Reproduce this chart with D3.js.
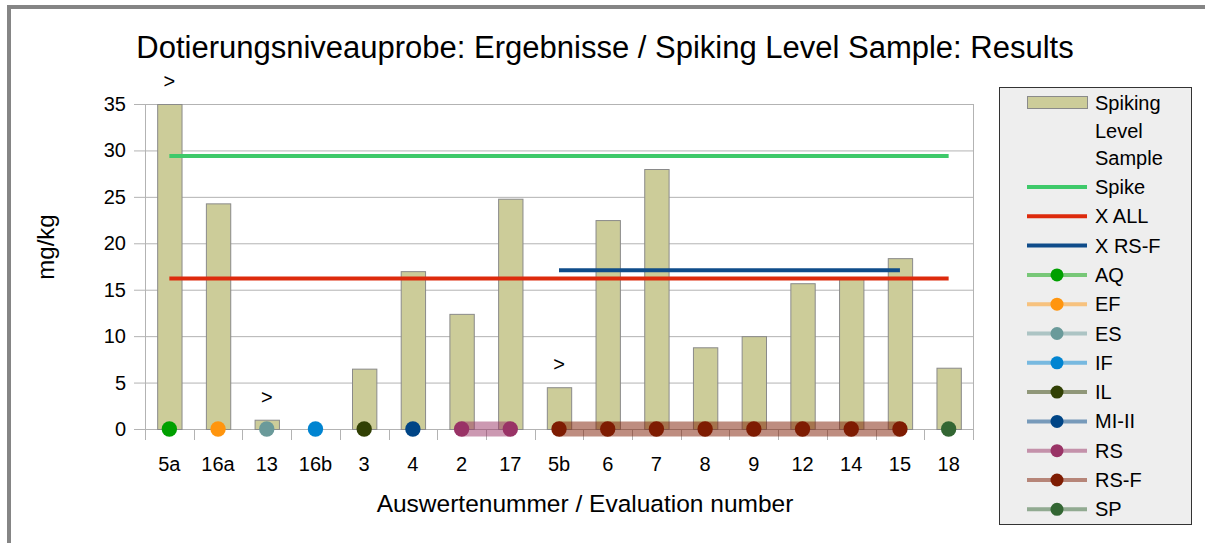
<!DOCTYPE html>
<html>
<head>
<meta charset="utf-8">
<script src="https://cdn.jsdelivr.net/npm/d3@7"></script>
<style>
  html, body { margin: 0; padding: 0; background: #fff; }
  svg { display: block; font-family: "Liberation Sans", Arial, sans-serif; }
</style>
</head>
<body>
<svg id="chart" width="1205" height="543"></svg>
<script>
// ---- Data ----
const categories = ["5a","16a","13","16b","3","4","2","17","5b","6","7","8","9","12","14","15","18"];
const spikingValues = [35, 24.3, 1.0, null, 6.5, 17.0, 12.4, 24.8, 4.5, 22.5, 28.0, 8.8, 10.0, 15.7, 16.3, 18.4, 6.6];
const valueLabels = [">", "", ">", "", "", "", "", "", ">", "", "", "", "", "", "", "", ""];
const spikeValue = 29.4;
const spikeRange = ["5a", "18"];
const xAllValue = 16.2;
const xAllRange = ["5a", "18"];
const xRsfValue = 17.1;
const xRsfRange = ["5b", "15"];
const labSeries = ["AQ","EF","ES","IF","IL","MI-II","RS","RS-F","SP"];
const labColors = ["#00a000","#ff950e","#6a9a9a","#0084d1","#314004","#004586","#993366","#7e1c02","#336633"];
const labCategories = [["5a"],["16a"],["13"],["16b"],["3"],["4"],["2","17"],["5b","6","7","8","9","12","14","15"],["18"]];
const labValues = [[0],[0],[0],[0],[0],[0],[0,0],[0,0,0,0,0,0,0,0],[0]];
const yTicks = [0,5,10,15,20,25,30,35];
const titleText = "Dotierungsniveauprobe: Ergebnisse / Spiking Level Sample: Results";
const xTitle = "Auswertenummer / Evaluation number";
const yTitle = "mg/kg";

// ---- Layout ----
const svg = d3.select("#chart");
const plot = { left: 145, right: 973, top: 104, bottom: 429 };

const x = d3.scaleBand().domain(categories).range([plot.left, plot.right]).paddingInner(0.5).paddingOuter(0.25);
const y = d3.scaleLinear().domain([0, 35]).range([plot.bottom, plot.top]);
const cx = c => x(c) + x.bandwidth() / 2;

// frame
svg.append("rect").attr("x", 7).attr("y", 5).attr("width", 1200).attr("height", 4).attr("fill", "#858585");
svg.append("rect").attr("x", 7).attr("y", 5).attr("width", 4).attr("height", 540).attr("fill", "#858585");

// title
svg.append("text").attr("x", 605).attr("y", 58).attr("text-anchor", "middle")
  .attr("font-size", 31).attr("fill", "#000").text(titleText);

// gridlines
const grid = svg.append("g");
grid.selectAll("line.h").data(yTicks).join("line")
  .attr("x1", plot.left - 11).attr("x2", plot.right)
  .attr("y1", d => y(d) + 0.5).attr("y2", d => y(d) + 0.5)
  .attr("stroke", "#b3b3b3").attr("stroke-width", 1);
grid.append("line").attr("x1", plot.left + 0.5).attr("x2", plot.left + 0.5)
  .attr("y1", plot.top).attr("y2", plot.bottom + 11).attr("stroke", "#b3b3b3");
grid.append("line").attr("x1", plot.right + 0.5).attr("x2", plot.right + 0.5)
  .attr("y1", plot.top).attr("y2", plot.bottom + 11).attr("stroke", "#b3b3b3");
// x category boundary ticks
const step = x.step();
grid.selectAll("line.xt").data(categories.slice(1)).join("line")
  .attr("x1", d => Math.round(cx(d) - step / 2) + 0.5).attr("x2", d => Math.round(cx(d) - step / 2) + 0.5)
  .attr("y1", plot.bottom).attr("y2", plot.bottom + 11)
  .attr("stroke", "#b3b3b3");

// y tick labels
svg.append("g").selectAll("text").data(yTicks).join("text")
  .attr("x", 126).attr("y", d => y(d) + 7).attr("text-anchor", "end")
  .attr("font-size", 20).attr("fill", "#000").text(d => d);

// x tick labels
svg.append("g").selectAll("text").data(categories).join("text")
  .attr("x", d => cx(d)).attr("y", 471).attr("text-anchor", "middle")
  .attr("font-size", 20).attr("fill", "#000").text(d => d);

// axis titles
svg.append("text").attr("x", 585).attr("y", 512).attr("text-anchor", "middle")
  .attr("font-size", 24.5).attr("fill", "#000").text(xTitle);
svg.append("text").attr("transform", "translate(54,247) rotate(-90)").attr("text-anchor", "middle")
  .attr("font-size", 24).attr("fill", "#000").text(yTitle);

// bars
const barData = categories.map((c, i) => ({ c, v: spikingValues[i], lab: valueLabels[i] }));
svg.append("g").selectAll("rect").data(barData.filter(d => d.v != null)).join("rect")
  .attr("x", d => x(d.c) + 0.5).attr("y", d => y(d.v) + 0.5)
  .attr("width", x.bandwidth()).attr("height", d => y(0) - y(d.v))
  .attr("fill", "#cccc99").attr("stroke", "#8a8a8a").attr("stroke-width", 1);

// value labels
svg.append("g").selectAll("text").data(barData.filter(d => d.lab)).join("text")
  .attr("x", d => cx(d.c)).attr("y", d => y(d.v) - 16).attr("text-anchor", "middle")
  .attr("font-size", 20).attr("fill", "#000").text(d => d.lab);

// horizontal reference lines
const refLines = [
  { v: spikeValue, r: spikeRange, color: "#3ec96a" },
  { v: xAllValue, r: xAllRange, color: "#dd2a0c" },
  { v: xRsfValue, r: xRsfRange, color: "#0f4c8a" }
];
svg.append("g").selectAll("line").data(refLines).join("line")
  .attr("x1", d => cx(d.r[0])).attr("x2", d => cx(d.r[1]))
  .attr("y1", d => y(d.v)).attr("y2", d => y(d.v))
  .attr("stroke", d => d.color).attr("stroke-width", 4);

// lab series
const lineGen = d3.line().x(d => cx(d.c)).y(d => y(d.v));
labSeries.forEach((s, i) => {
  const pts = labCategories[i].map((c, j) => ({ c, v: labValues[i][j] }));
  if (pts.length > 1) {
    svg.append("path").datum(pts).attr("d", lineGen)
      .attr("fill", "none").attr("stroke", labColors[i]).attr("stroke-width", 15)
      .attr("stroke-opacity", 0.5);
  }
  svg.append("g").selectAll("circle").data(pts).join("circle")
    .attr("cx", d => cx(d.c)).attr("cy", d => y(d.v)).attr("r", 7.7)
    .attr("fill", labColors[i]);
});

// legend
const lg = svg.append("g");
lg.append("rect").attr("x", 999.5).attr("y", 87.5).attr("width", 192).attr("height", 437)
  .attr("fill", "#eeeeee").attr("stroke", "#333").attr("stroke-width", 1);
const symX1 = 1027, symX2 = 1087, txtX = 1095;
// bar entry
lg.append("rect").attr("x", symX1 + 0.5).attr("y", 96.5).attr("width", 60).attr("height", 12)
  .attr("fill", "#cccc99").attr("stroke", "#8a8a8a");
["Spiking", "Level", "Sample"].forEach((t, k) => {
  lg.append("text").attr("x", txtX).attr("y", 110 + k * 27.7).attr("font-size", 20).attr("fill", "#000").text(t);
});
const legendItems = [
  { name: "Spike", color: refLines[0].color, marker: false },
  { name: "X ALL", color: refLines[1].color, marker: false },
  { name: "X RS-F", color: refLines[2].color, marker: false }
].concat(labSeries.map((s, i) => ({ name: s, color: labColors[i], marker: true })));
legendItems.forEach((d, k) => {
  const yy = 187 + k * 29.3;
  lg.append("line").attr("x1", symX1).attr("x2", symX2).attr("y1", yy).attr("y2", yy)
    .attr("stroke", d.color).attr("stroke-width", 4).attr("stroke-opacity", d.marker ? 0.5 : 1);
  if (d.marker) {
    lg.append("circle").attr("cx", (symX1 + symX2) / 2).attr("cy", yy).attr("r", 6.5).attr("fill", d.color);
  }
  lg.append("text").attr("x", txtX).attr("y", yy + 7).attr("font-size", 20).attr("fill", "#000").text(d.name);
});
</script>
</body>
</html>
